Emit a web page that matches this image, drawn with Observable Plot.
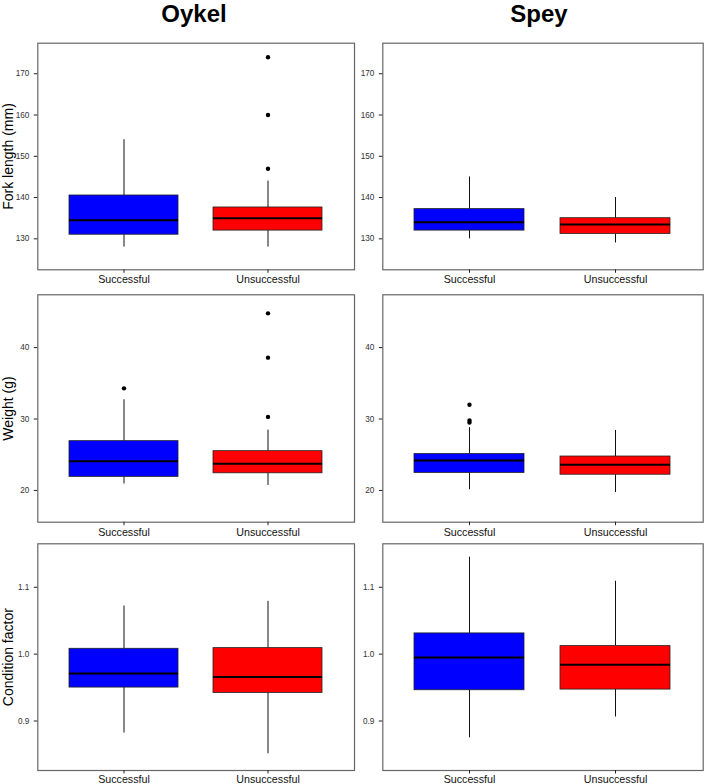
<!DOCTYPE html>
<html>
<head>
<meta charset="utf-8">
<script src="https://cdn.jsdelivr.net/npm/d3@7"></script>
<script src="https://cdn.jsdelivr.net/npm/@observablehq/plot@0.6"></script>
<style>
  body { margin: 0; background: #fff; }
  #root { position: relative; width: 709px; height: 784px; overflow: hidden; font-family: "Liberation Sans", Arial, Helvetica, sans-serif; }
  .title { position: absolute; top: 0; font-weight: bold; font-size: 24px; line-height: normal; transform: translateX(-50%); color: #000; white-space: nowrap; }
  .cell { position: absolute; }
</style>
</head>
<body>
<div id="root"></div>
<script>
// ---------------- DATA ----------------
const rivers = ["Oykel", "Spey"];
const groups = ["Successful", "Unsuccessful"];
const measures = ["Fork length (mm)", "Weight (g)", "Condition factor"];

// Order within each array: Oykel-Successful, Oykel-Unsuccessful, Spey-Successful, Spey-Unsuccessful
const forkLower  = [128, 128, 130, 129];
const forkQ1     = [131, 132, 132, 131.2];
const forkMedian = [134.5, 135, 134, 133.5];
const forkQ3     = [140.5, 137.6, 137.2, 135];
const forkUpper  = [154, 144, 145, 140];

const weightLower  = [20.9, 20.7, 20.1, 19.7];
const weightQ1     = [21.9, 22.4, 22.45, 22.2];
const weightMedian = [24.1, 23.75, 24.2, 23.6];
const weightQ3     = [26.9, 25.5, 25.1, 24.75];
const weightUpper  = [32.7, 28.45, 28.8, 28.4];

const conditionLower  = [0.882, 0.851, 0.875, 0.906];
const conditionQ1     = [0.950, 0.942, 0.946, 0.947];
const conditionMedian = [0.971, 0.966, 0.995, 0.984];
const conditionQ3     = [1.008, 1.009, 1.031, 1.012];
const conditionUpper  = [1.072, 1.079, 1.145, 1.109];

// Outliers
const outlierMeasure = ["Fork length (mm)", "Fork length (mm)", "Fork length (mm)",
  "Weight (g)", "Weight (g)", "Weight (g)", "Weight (g)", "Weight (g)", "Weight (g)", "Weight (g)"];
const outlierRiver = ["Oykel", "Oykel", "Oykel", "Oykel", "Oykel", "Oykel", "Oykel", "Spey", "Spey", "Spey"];
const outlierGroup = ["Unsuccessful", "Unsuccessful", "Unsuccessful", "Successful",
  "Unsuccessful", "Unsuccessful", "Unsuccessful", "Successful", "Successful", "Successful"];
const outlierValue = [147, 160, 174, 34.3, 30.3, 38.6, 44.8, 32.0, 29.8, 29.5];

// Axis domains and tick labels
const forkDomain = [122.5, 177.4];
const weightDomain = [15.55, 47.4];
const conditionDomain = [0.826, 1.165];
const forkTicks = [130, 140, 150, 160, 170];
const weightTicks = [20, 30, 40];
const conditionTicks = [0.9, 1.0, 1.1];

const boxColors = ["#0000FF", "#FF0000"];

// ---------------- BUILD ----------------
const statSets = [
  [forkLower, forkQ1, forkMedian, forkQ3, forkUpper],
  [weightLower, weightQ1, weightMedian, weightQ3, weightUpper],
  [conditionLower, conditionQ1, conditionMedian, conditionQ3, conditionUpper]
];
const domains = [forkDomain, weightDomain, conditionDomain];
const tickSets = [forkTicks, weightTicks, conditionTicks];
const tickFormats = [d3.format("d"), d3.format("d"), d3.format(".1f")];

const FONT = '"Liberation Sans", Arial, Helvetica, sans-serif';

// layout (pixels)
const rowTop = [30, 285, 535];
const rowHeight = [255, 250, 249];
const rowMarginTop = [12.7, 9.3, 8.3];
const rowMarginBottom = [15.7, 13.3, 14];
const rowXPad = [2.5, 2.5, 1.5];
const colLeft = [0, 356];
const colWidth = [356, 353];
const colMarginLeft = [37.3, 26.3];
const colMarginRight = [2, 6.3];
const titleX = [194, 539];

const root = document.getElementById("root");

rivers.forEach((r, ci) => {
  const t = document.createElement("div");
  t.className = "title";
  t.style.left = titleX[ci] + "px";
  t.textContent = r;
  root.appendChild(t);
});

measures.forEach((m, ri) => {
  const [lo, q1, med, q3, hi] = statSets[ri];
  rivers.forEach((r, ci) => {
    const data = groups.map((g, gi) => {
      const k = ci * 2 + gi;
      return {river: r, group: g, lower: lo[k], q1: q1[k], median: med[k], q3: q3[k], upper: hi[k]};
    });
    const outliers = outlierValue
      .map((v, i) => ({measure: outlierMeasure[i], river: outlierRiver[i], group: outlierGroup[i], value: v}))
      .filter(d => d.measure === m && d.river === r);

    const marks = [
      Plot.ruleX(data, {x: "group", y1: "lower", y2: "q1", stroke: "#111", strokeWidth: 1}),
      Plot.ruleX(data, {x: "group", y1: "q3", y2: "upper", stroke: "#111", strokeWidth: 1}),
      Plot.barY(data, {x: "group", y1: "q1", y2: "q3", fill: "group", stroke: "#222", strokeWidth: 0.8}),
      Plot.tickY(data, {x: "group", y: "median", stroke: "#000", strokeWidth: 2}),
      Plot.dot(outliers, {x: "group", y: "value", r: 2.2, fill: "#000", stroke: "none"}),
      Plot.frame({stroke: "#666", strokeWidth: 1.2}),
      Plot.axisY(tickSets[ri], {tickSize: 3.5, tickPadding: 5, fontSize: 8.2, label: null, tickFormat: tickFormats[ri], fill: "#333"}),
      Plot.axisX({tickSize: 3.5, tickPadding: rowXPad[ri], fontSize: 10.7, label: null, fill: "#111"})
    ];
    if (ci === 0) {
      marks.push(Plot.text([m], {text: d => d, frameAnchor: "left", textAnchor: "middle", lineAnchor: "middle", dx: -29, rotate: -90, fontSize: 14, fill: "#000"}));
    }

    const plot = Plot.plot({
      width: colWidth[ci],
      height: rowHeight[ri],
      marginLeft: colMarginLeft[ci],
      marginRight: colMarginRight[ci],
      marginTop: rowMarginTop[ri],
      marginBottom: rowMarginBottom[ri],
      style: {fontFamily: FONT, background: "transparent", color: "#222", overflow: "visible"},
      x: {domain: groups, paddingInner: 0.245, paddingOuter: 0.215},
      y: {domain: domains[ri]},
      color: {domain: groups, range: boxColors},
      marks
    });
    const cell = document.createElement("div");
    cell.className = "cell";
    cell.style.left = colLeft[ci] + "px";
    cell.style.top = rowTop[ri] + "px";
    cell.appendChild(plot);
    root.appendChild(cell);
  });
});
</script>
</body>
</html>
